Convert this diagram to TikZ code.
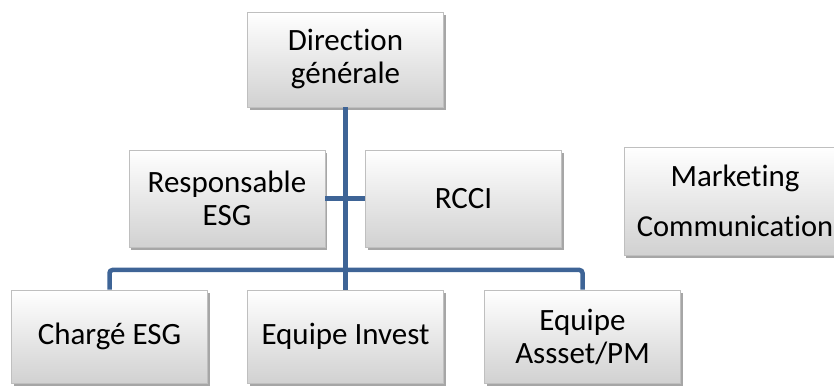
\documentclass[tikz,border=0pt]{standalone}
\usepackage{fontspec}
\setmainfont{Carlito}[Ligatures=NoCommon]
\usetikzlibrary{shadows}
\definecolor{linkblue}{RGB}{62,100,150}
\begin{document}
\begin{tikzpicture}[x=1pt,y=1pt,
        box/.style={rectangle,draw=black!25,line width=0.6pt,
            top color=white,bottom color=black!18,
            minimum width=196pt,minimum height=95pt,inner sep=0pt,
            align=center,font=\fontsize{31}{33}\selectfont,
            drop shadow={shadow xshift=2pt,shadow yshift=-3pt,
                fill=black,opacity=0.35}},
        link/.style={draw=linkblue,line width=4.5pt,rounded corners=3pt}]
\useasboundingbox (0,0) rectangle (834,385);

\node[box] (dir) at (345.5,325.5) {Direction\\générale};
\node[box,minimum height=97pt] (resp) at (227,186.5) {Responsable\\ESG};
\node[box,minimum height=97pt] (rcci) at (463.5,186.5) {RCCI};
\node[box,minimum width=222pt,minimum height=108pt] (mkt) at (735,184)
    {Marketing\\[17pt]\fontsize{30.5}{33}\selectfont Communication};

\node[box,minimum height=93pt] (charge) at (109.5,48.5) {Chargé ESG};
\node[box,minimum height=93pt] (invest) at (345.5,48.5) {Equipe Invest};
\node[box,minimum height=93pt] (asset) at (582.5,48.5) {Equipe\\Assset/PM};

\coordinate (bus) at (345.5,115);

\draw[link] (dir.south) -- (invest.north);
\draw[link] (resp.east) -- (rcci.west);
\draw[link] (charge.north) |- (bus) -| (asset.north);

\end{tikzpicture}
\end{document}
